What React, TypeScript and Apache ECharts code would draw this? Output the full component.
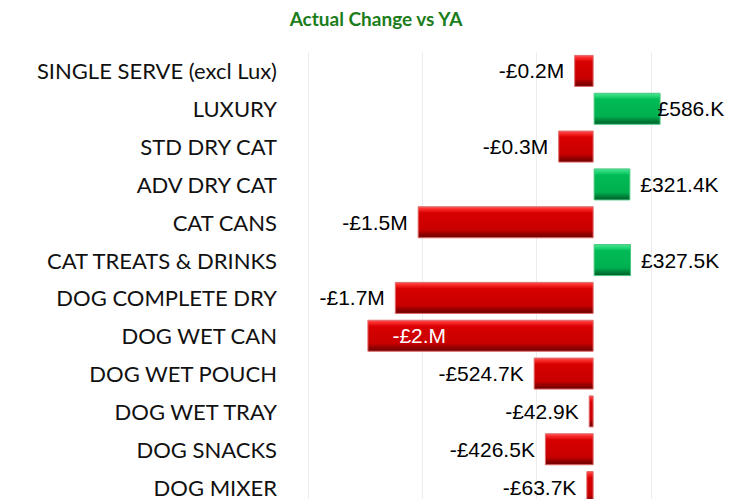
import React, { useEffect, useRef } from "react";
import * as echarts from "echarts";

const categories = [
  "SINGLE SERVE (excl Lux)",
  "LUXURY",
  "STD DRY CAT",
  "ADV DRY CAT",
  "CAT CANS",
  "CAT TREATS & DRINKS",
  "DOG COMPLETE DRY",
  "DOG WET CAN",
  "DOG WET POUCH",
  "DOG WET TRAY",
  "DOG SNACKS",
  "DOG MIXER",
];
// values in £M
const values = [-0.17, 0.586, -0.31, 0.3214, -1.54, 0.3275, -1.74, -1.98, -0.5247, -0.0429, -0.4265, -0.0637];
const valueLabels = [
  "-£0.2M", "£586.K", "-£0.3M", "£321.4K", "-£1.5M", "£327.5K",
  "-£1.7M", "-£2.M", "-£524.7K", "-£42.9K", "-£426.5K", "-£63.7K",
];

const redGrad = new echarts.graphic.LinearGradient(0, 0, 0, 1, [
  { offset: 0, color: "#f06060" },
  { offset: 0.06, color: "#ff3030" },
  { offset: 0.2, color: "#d80000" },
  { offset: 0.75, color: "#c80000" },
  { offset: 0.86, color: "#9a0000" },
  { offset: 1, color: "#6a0000" },
]);
const greenGrad = new echarts.graphic.LinearGradient(0, 0, 0, 1, [
  { offset: 0, color: "#50d890" },
  { offset: 0.06, color: "#30e080" },
  { offset: 0.2, color: "#00bb55" },
  { offset: 0.75, color: "#00b050" },
  { offset: 0.86, color: "#008a3c" },
  { offset: 1, color: "#005c28" },
]);

export default function App() {
  const ref = useRef<HTMLDivElement>(null);
  useEffect(() => {
    if (!ref.current) return;
    const chart = echarts.init(ref.current, null, { renderer: "svg" });
    const data = values.map((v, i) => {
      const neg = v < 0;
      const item: any = {
        value: v,
        itemStyle: {
          color: neg ? redGrad : greenGrad,
          borderColor: neg ? "#e06868" : "#48c880",
          borderWidth: 1,
        },
        label: {
          show: true,
          position: neg ? "left" : "right",
          distance: 10,
          formatter: valueLabels[i],
          color: "#000",
          fontFamily: "Liberation Sans, Arial, sans-serif",
          fontSize: 21,
        },
      };
      if (i === 1) item.label.distance = -3;
      if (i === 7) {
        item.label.position = "insideLeft";
        item.label.distance = 25;
        item.label.color = "#fff";
      }
      return item;
    });
    chart.setOption({
      animation: false,
      title: {
        text: "Actual Change vs YA",
        left: 371,
        top: 4,
        textAlign: "center",
        textStyle: {
          color: "#1b7d1b",
          fontFamily: "Lato, Carlito, sans-serif",
          fontWeight: "bold",
          fontSize: 19,
        },
      },
      grid: { left: 308, top: 52, right: 1, bottom: 0, containLabel: false },
      xAxis: {
        type: "value",
        min: -2.5,
        max: 1.5,
        interval: 1,
        axisLabel: { show: false },
        axisLine: { show: false },
        axisTick: { show: false },
        splitLine: { show: true, lineStyle: { color: "#ececec", width: 1 } },
      },
      yAxis: {
        type: "category",
        inverse: true,
        data: categories,
        axisLine: { show: false },
        axisTick: { show: false },
        axisLabel: {
          color: "#111",
          fontFamily: "Lato, Carlito, sans-serif",
          fontSize: 22,
          margin: 31,
        },
      },
      series: [
        {
          type: "bar",
          data,
          barWidth: 32,
        },
      ],
    });
    return () => chart.dispose();
  }, []);
  return (
    <div style={{ position: "absolute", left: 0, top: 0, width: 751, height: 499, overflow: "hidden", background: "#fff" }}>
      <div ref={ref} style={{ width: 766, height: 506 }} />
    </div>
  );
}
